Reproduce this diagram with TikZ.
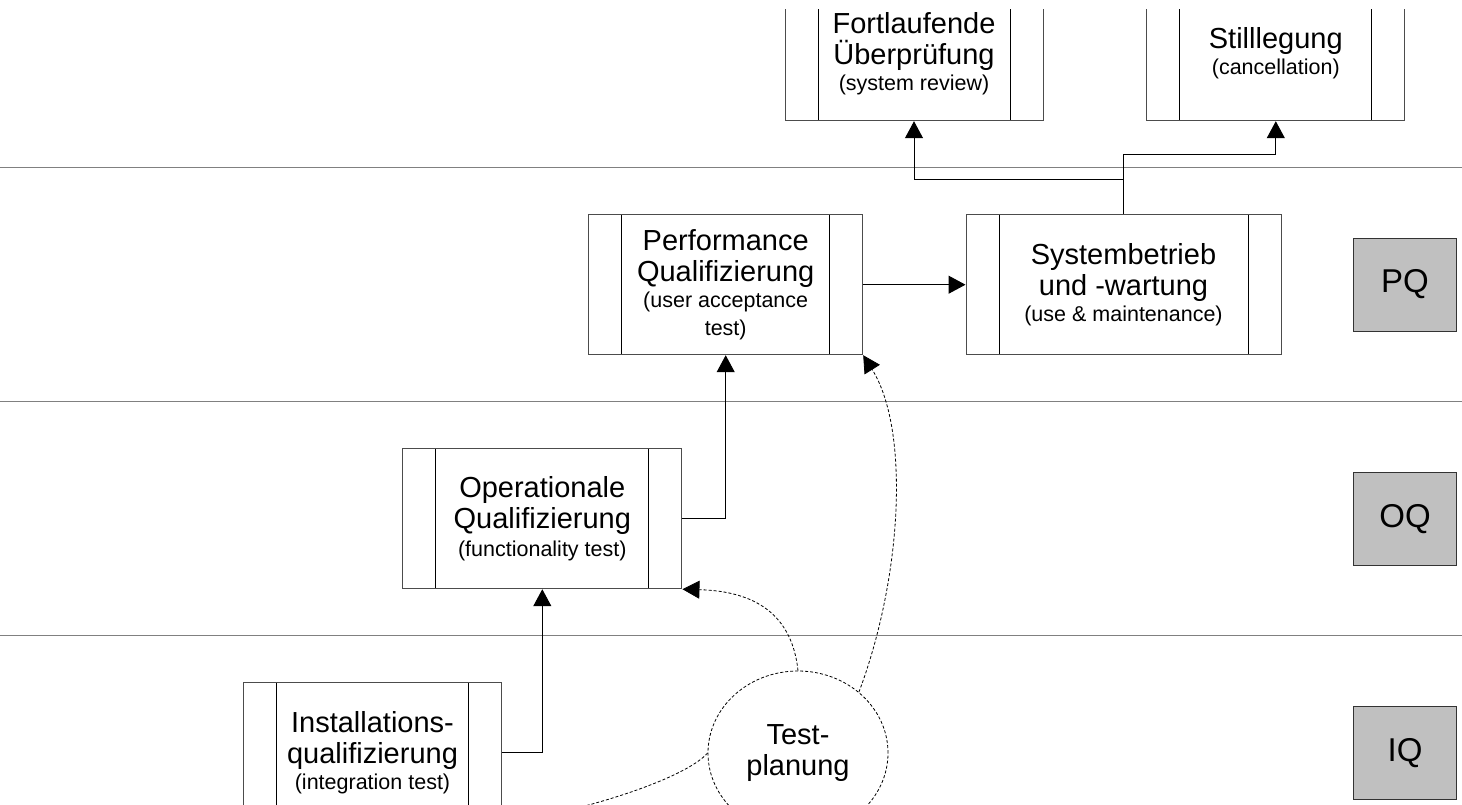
\documentclass[tikz,border=0pt]{standalone}
\usepackage{fontspec}
\setmainfont{Liberation Sans}
\usetikzlibrary{arrows.meta,shapes.geometric}
\definecolor{lanegray}{RGB}{128,128,128}
\definecolor{tagfill}{RGB}{192,192,192}
\newcommand{\sm}{\fontsize{21.5}{21}\selectfont}
\tikzset{
  proc/.style={draw=black!70, line width=1pt, minimum height=140pt, inner sep=0pt,
    align=center, font=\fontsize{29}{31}\selectfont,
    path picture={\draw[black, line width=1pt]
      ([xshift=33pt]path picture bounding box.north west) -- ([xshift=33pt]path picture bounding box.south west)
      ([xshift=-33pt]path picture bounding box.north east) -- ([xshift=-33pt]path picture bounding box.south east);}},
  tag/.style={draw=black!80, line width=1pt, fill=tagfill, minimum width=103pt,
    minimum height=93pt, font=\fontsize{33}{33}\selectfont},
  plan/.style={ellipse, draw, dash pattern=on 3pt off 2pt, line width=0.8pt,
    minimum width=180pt, minimum height=164pt, inner sep=0pt, align=center,
    font=\fontsize{29}{31}\selectfont},
  lane/.style={draw=lanegray, line width=1.5pt},
  flow/.style={->, line width=1pt},
  dflow/.style={->, dash pattern=on 3pt off 2pt, line width=0.8pt}
}
\begin{document}
\begin{tikzpicture}[x=1pt, y=1pt, >={Triangle[length=17pt,width=18pt]}]
    \useasboundingbox (0,0) rectangle (1462,-804);
    \clip (0,-9.3) rectangle (1462,-804);
    % lanes
    \draw[lane] (0,-167.7) -- (1462,-167.7);
    \draw[lane] (0,-401.7) -- (1462,-401.7);
    \draw[lane] (0,-635.7) -- (1462,-635.7);
    % steps
    \node[proc, minimum width=258pt, minimum height=134pt] (fort) at (914,-53.7)
    {Fortlaufende\\Überprüfung\\[-5pt]{\sm (system review)}};
    \node[proc, minimum width=258.3pt, minimum height=134pt] (still) at (1275.8,-53.7)
    {Stilllegung\\[-5pt]{\sm (cancellation)}};
    \node[proc, minimum width=274pt] (perf) at (725.7,-284.7)
    {Performance\\Qualifizierung\\[-5pt]{\sm (user acceptance}\\[-3.5pt]{\sm test)}};
    \node[proc, minimum width=315pt] (sys) at (1123.5,-284.7)
    {Systembetrieb\\und -wartung\\[-5pt]{\sm (use \& maintenance)}};
    \node[proc, minimum width=279.3pt] (oq) at (542.3,-518.7)
    {Operationale\\Qualifizierung\\[-3pt]{\sm (functionality test)}};
    \node[proc, minimum width=258.4pt] (inst) at (372.5,-752.7)
    {Installations-\\qualifizierung\\[-5pt]{\sm (integration test)}};
    \node[plan] (plan) at (798,-753) {Test-\\planung};
    % levels
    \node[tag] (pqtag) at (1405,-284.5) {PQ};
    \node[tag] (oqtag) at (1405,-519) {OQ};
    \node[tag] (iqtag) at (1405,-753) {IQ};
    % connectors
    \draw[flow] (inst.east) -| (oq.south);
    \draw[flow] (oq.east) -| (perf.south);
    \draw[flow] (perf.east) -- (sys.west);
    \draw[flow] (sys.north) -- ++(0,34.7) -| (fort.south);
    \draw[flow] (sys.north) -- ++(0,59.7) -| (still.south);
    \draw[dflow] (plan.north) .. controls +(-6,56) and +(73,-2) .. (oq.south east);
    \draw[dflow] (plan.45) .. controls +(43,114) and +(47,-75) .. (perf.south east);
    \draw[dflow] (plan.west) .. controls +(-22,-25) and +(90,15) .. (inst.south east);
  \end{tikzpicture}
\end{document}
